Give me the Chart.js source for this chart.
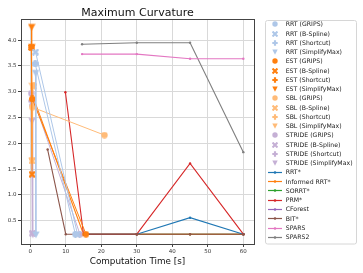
<!DOCTYPE html>
<html><head><meta charset="utf-8">
<script src="https://cdn.jsdelivr.net/npm/chart.js@4"></script>
<style>html,body{margin:0;padding:0;background:#fff;}</style>
</head><body>
<canvas id="c" width="363" height="273"></canvas>
<script>
// ---------- text ----------
const chartTitle = "Maximum Curvature";
const xAxisTitle = "Computation Time [s]";
const xTicks = [0, 10, 20, 30, 40, 50, 60];
const yTicks = [0.5, 1.0, 1.5, 2.0, 2.5, 3.0, 3.5, 4.0];

// ---------- post-smoothing series (time [s], max curvature) ----------
const rrtGripsTime = [1.4, 12.7],   rrtGripsCurv = [3.54, 0.24];
const rrtBsplineTime = [1.5, 13.3], rrtBsplineCurv = [3.77, 0.24];
const rrtShortcutTime = [1.4],      rrtShortcutCurv = [3.55];
const rrtSimplifyTime = [1.5, 1.6], rrtSimplifyCurv = [3.36, 0.23];

const estGripsTime = [0.6, 15.7],   estGripsCurv = [2.86, 0.24];
const estBsplineTime = [0.4, 0.5],  estBsplineCurv = [3.86, 1.40];
const estShortcutTime = [0.3, 0.5], estShortcutCurv = [3.86, 2.86];
const estSimplifyTime = [0.4, 0.4], estSimplifyCurv = [4.25, 3.86];

const sblGripsTime = [0.6, 20.9],   sblGripsCurv = [2.70, 2.16];
const sblBsplineTime = [0.8, 0.5],  sblBsplineCurv = [3.11, 1.66];
const sblShortcutTime = [1.0],      sblShortcutCurv = [3.13];
const sblSimplifyTime = [0.6, 0.5], sblSimplifyCurv = [3.11, 1.66];

const strideGripsTime = [0.3, 14.0],   strideGripsCurv = [2.97, 0.24];
const strideBsplineTime = [0.5, 0.6],  strideBsplineCurv = [2.78, 0.26];
const strideShortcutTime = [0.4],      strideShortcutCurv = [2.82];
const strideSimplifyTime = [0.5, 0.7], strideSimplifyCurv = [2.43, 0.23];

// ---------- planners (time budget [s], max curvature) ----------
const rrtStarTime = [15, 30, 45, 60],          rrtStarCurv = [0.24, 0.24, 0.56, 0.24];
const informedTime = [1.0, 15, 30, 45, 60],    informedCurv = [2.86, 0.24, 0.24, 0.24, 0.24];
const sorrtTime = [15, 30, 45, 60],            sorrtCurv = [0.24, 0.24, 0.24, 0.24];
const prmStarTime = [9.9, 15, 30, 45, 60],     prmStarCurv = [2.99, 0.24, 0.24, 1.61, 0.24];
const cforestTime = [15, 30, 45, 60],          cforestCurv = [0.24, 0.24, 0.24, 0.24];
const bitStarTime = [4.9, 10, 30, 45, 60],     bitStarCurv = [1.88, 0.24, 0.24, 0.24, 0.24];
const sparsTime = [14.6, 30, 45, 60],          sparsCurv = [3.73, 3.73, 3.64, 3.64];
const spars2Time = [14.6, 30, 45, 60],         spars2Curv = [3.92, 3.95, 3.95, 1.83];

// ---------- helpers ----------
const zip = (xs, ys) => xs.map((x, i) => ({x, y: ys[i]}));
function marker(shape, color, s) {
  const c = document.createElement('canvas'); c.width = s; c.height = s;
  const g = c.getContext('2d'); g.fillStyle = color; const h = s / 2;
  g.beginPath();
  if (shape === 'circle') g.arc(h, h, h - 0.3, 0, 2 * Math.PI);
  else if (shape === 'plus') { const w = s * 0.36; g.rect(h - w / 2, 0.3, w, s - 0.6); g.rect(0.3, h - w / 2, s - 0.6, w); }
  else if (shape === 'x') { g.translate(h, h); g.rotate(Math.PI / 4); const w = s * 0.34, L = s * 1.15; g.rect(-w / 2, -L / 2, w, L); g.rect(-L / 2, -w / 2, L, w); }
  else if (shape === 'tri') { g.moveTo(0.3, s * 0.1); g.lineTo(s - 0.3, s * 0.1); g.lineTo(h, s * 0.95); g.closePath(); }
  g.fill();
  return c;
}
function lineIcon(color) {
  const c = document.createElement('canvas'); c.width = 14; c.height = 5;
  const g = c.getContext('2d'); g.strokeStyle = color; g.fillStyle = color; g.lineWidth = 1.2;
  g.beginPath(); g.moveTo(0, 2.5); g.lineTo(14, 2.5); g.stroke();
  g.beginPath(); g.arc(7, 2.5, 1.3, 0, 2 * Math.PI); g.fill();
  return c;
}

const smoothColors = {RRT: '#aec7e8', EST: '#ff7f0e', SBL: '#ffbb78', STRIDE: '#c5b0d5'};
const smoothShapes = {GRIPS: 'circle', 'B-Spline': 'x', Shortcut: 'plus', SimplifyMax: 'tri'};
const smoothData = [
  ['RRT', 'GRIPS', rrtGripsTime, rrtGripsCurv], ['RRT', 'B-Spline', rrtBsplineTime, rrtBsplineCurv],
  ['RRT', 'Shortcut', rrtShortcutTime, rrtShortcutCurv], ['RRT', 'SimplifyMax', rrtSimplifyTime, rrtSimplifyCurv],
  ['EST', 'GRIPS', estGripsTime, estGripsCurv], ['EST', 'B-Spline', estBsplineTime, estBsplineCurv],
  ['EST', 'Shortcut', estShortcutTime, estShortcutCurv], ['EST', 'SimplifyMax', estSimplifyTime, estSimplifyCurv],
  ['SBL', 'GRIPS', sblGripsTime, sblGripsCurv], ['SBL', 'B-Spline', sblBsplineTime, sblBsplineCurv],
  ['SBL', 'Shortcut', sblShortcutTime, sblShortcutCurv], ['SBL', 'SimplifyMax', sblSimplifyTime, sblSimplifyCurv],
  ['STRIDE', 'GRIPS', strideGripsTime, strideGripsCurv], ['STRIDE', 'B-Spline', strideBsplineTime, strideBsplineCurv],
  ['STRIDE', 'Shortcut', strideShortcutTime, strideShortcutCurv], ['STRIDE', 'SimplifyMax', strideSimplifyTime, strideSimplifyCurv],
];
const plannerData = [
  ['RRT*', '#1f77b4', rrtStarTime, rrtStarCurv, 3],
  ['Informed RRT*', '#ff7f0e', informedTime, informedCurv, 4],
  ['SORRT*', '#2ca02c', sorrtTime, sorrtCurv, 5],
  ['PRM*', '#d62728', prmStarTime, prmStarCurv, 2],
  ['CForest', '#9467bd', cforestTime, cforestCurv, 6],
  ['BIT*', '#8c564b', bitStarTime, bitStarCurv, 1],
  ['SPARS', '#e377c2', sparsTime, sparsCurv, 2],
  ['SPARS2', '#7f7f7f', spars2Time, spars2Curv, 2],
];

const datasets = [];
smoothData.forEach(([p, s, xs, ys]) => {
  const col = smoothColors[p], shp = smoothShapes[s];
  datasets.push({
    label: p + ' (' + s + ')', data: zip(xs, ys), showLine: true,
    borderColor: col, backgroundColor: col, borderWidth: 1,
    pointStyle: marker(shp, col, shp === 'tri' ? 8 : 7), order: 0,
    legendIcon: marker(shp, col, 6),
  });
});
plannerData.forEach(([name, col, xs, ys, ord]) => {
  datasets.push({
    label: name, data: zip(xs, ys), showLine: true,
    borderColor: col, backgroundColor: col, borderWidth: 1.1,
    pointStyle: 'circle', pointRadius: 1.2, pointBorderWidth: 0, order: ord,
    legendIcon: lineIcon(col),
  });
});

const decor = {
  id: 'decor',
  afterDraw(chart) {
    const ctx = chart.ctx, a = chart.chartArea;
    ctx.save();
    // spines
    ctx.strokeStyle = '#444'; ctx.lineWidth = 1;
    ctx.strokeRect(Math.round(a.left) + 0.5, Math.round(a.top) + 0.5,
                   Math.round(a.right - a.left), Math.round(a.bottom - a.top));
    // title
    const cx = (a.left + a.right) / 2;
    ctx.fillStyle = '#111'; ctx.textAlign = 'center'; ctx.textBaseline = 'alphabetic';
    ctx.font = '11px "DejaVu Sans"';
    ctx.fillText(chartTitle, cx, 16);
    ctx.font = '8.8px "DejaVu Sans"';
    ctx.fillText(xAxisTitle, cx, 264);
    // legend
    const lx = 265.5, ly = 20.5, lw = 91, lh = 223.5;
    ctx.fillStyle = 'rgba(255,255,255,0.85)'; ctx.strokeStyle = '#d6d6d6';
    ctx.beginPath(); ctx.roundRect(lx, ly, lw, lh, 2); ctx.fill(); ctx.stroke();
    ctx.font = '6.2px "DejaVu Sans"'; ctx.textAlign = 'left'; ctx.textBaseline = 'middle';
    chart.data.datasets.forEach((ds, i) => {
      const y = 24.4 + i * 9.255;
      const ic = ds.legendIcon;
      ctx.drawImage(ic, Math.round(275 - ic.width / 2), Math.round(y - ic.height / 2));
      ctx.fillStyle = '#222';
      ctx.fillText(ds.label, 285.7, y + 0.3);
    });
    ctx.restore();
  }
};

Chart.defaults.font.family = '"DejaVu Sans"';
new Chart(document.getElementById('c'), {
  type: 'scatter',
  data: {datasets},
  options: {
    responsive: false, animation: false, devicePixelRatio: 1,
    layout: {padding: {top: 19, right: 109, left: 0, bottom: 0}},
    plugins: {legend: {display: false}, title: {display: false}, tooltip: {enabled: false}},
    scales: {
      x: {
        type: 'linear', min: -2.6, max: 63,
        afterBuildTicks: s => { s.ticks = xTicks.map(v => ({value: v})); },
        afterFit: s => { s.height = 29; },
        ticks: {font: {size: 5.5}, color: '#333', padding: 1, maxRotation: 0, callback: v => String(v)},
        grid: {color: '#d9d9d9', lineWidth: 1, tickLength: 3, tickColor: '#444', drawTicks: true},
        border: {display: false},
      },
      y: {
        type: 'linear', min: 0.05, max: 4.41,
        afterBuildTicks: s => { s.ticks = yTicks.map(v => ({value: v})); },
        afterFit: s => { s.width = 21; },
        ticks: {font: {size: 5.5}, color: '#333', padding: 1.5, callback: v => v.toFixed(1)},
        grid: {color: '#d9d9d9', lineWidth: 1, tickLength: 3, tickColor: '#444', drawTicks: true},
        border: {display: false},
      }
    }
  },
  plugins: [decor]
});
</script>
</body></html>
